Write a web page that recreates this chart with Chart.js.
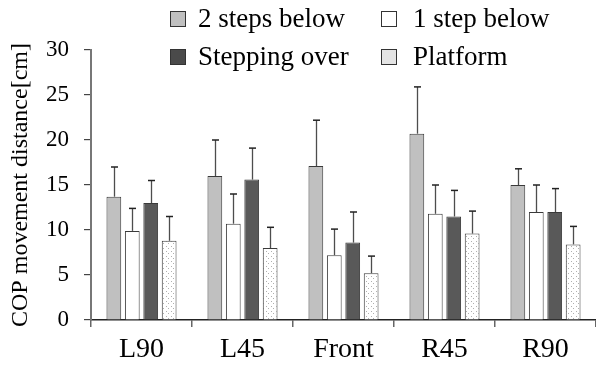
<!DOCTYPE html>
<html>
<head>
<meta charset="utf-8">
<script src="https://cdn.jsdelivr.net/npm/chart.js@4/dist/chart.umd.min.js"></script>
<style>
  html, body { margin: 0; padding: 0; background: #fff; }
  #wrap { position: relative; width: 596px; height: 366px; }
  canvas { position: absolute; left: 0; top: 0; }
  .lg { position: absolute; font-family: 'Liberation Serif', 'Times New Roman', serif; font-size: 27px; color: #000; line-height: 1; white-space: nowrap; }
  .bx { position: absolute; width: 14px; height: 14px; border: 1px solid #333; }
</style>
</head>
<body>
<div id="wrap">
  <canvas id="c" width="596" height="366"></canvas>
  <div id="legend"></div>
</div>
<script>
const categories = ['L90', 'L45', 'Front', 'R45', 'R90'];
const seriesNames = ['2 steps below', '1 step below', 'Stepping over', 'Platform'];
const twoStepsBelow = [13.7, 16.0, 17.1, 20.7, 15.0];
const oneStepBelow = [9.9, 10.7, 7.2, 11.8, 12.0];
const steppingOver = [13.0, 15.6, 8.6, 11.5, 12.0];
const platform = [8.8, 8.0, 5.2, 9.6, 8.4];
const twoStepsBelowSD = [3.3, 4.0, 5.1, 5.2, 1.8];
const oneStepBelowSD = [2.5, 3.3, 2.9, 3.2, 3.0];
const steppingOverSD = [2.5, 3.5, 3.4, 2.9, 2.6];
const platformSD = [2.7, 2.3, 1.9, 2.5, 2.0];
const yTicks = [0, 5, 10, 15, 20, 25, 30];

// dotted pattern for Platform
function makePattern() {
  const p = document.createElement('canvas');
  p.width = 5; p.height = 5;
  const g = p.getContext('2d');
  g.fillStyle = '#ffffff';
  g.fillRect(0, 0, 5, 5);
  g.fillStyle = '#b0b0b0';
  g.fillRect(1, 1, 1, 1);
  g.fillRect(3, 3, 1, 1);
  return document.getElementById('c').getContext('2d').createPattern(p, 'repeat');
}
const dotPattern = makePattern();

const fills = ['#c0c0c0', '#ffffff', '#595959', dotPattern];
const legendFills = ['#c0c0c0', '#ffffff', '#4a4a4a', '#e4e4e4'];
const values = [twoStepsBelow, oneStepBelow, steppingOver, platform];
const sds = [twoStepsBelowSD, oneStepBelowSD, steppingOverSD, platformSD];

// HTML legend (2 x 2)
const legendPos = [
  { bx: 170, tx: 198, cy: 19 },
  { bx: 381, tx: 413, cy: 19 },
  { bx: 170, tx: 198, cy: 57 },
  { bx: 381, tx: 413, cy: 57 }
];
const lg = document.getElementById('legend');
seriesNames.forEach((name, i) => {
  const p = legendPos[i];
  const b = document.createElement('div');
  b.className = 'bx';
  b.style.left = p.bx + 'px';
  b.style.top = (p.cy - 8) + 'px';
  b.style.background = legendFills[i];
  lg.appendChild(b);
  const t = document.createElement('div');
  t.className = 'lg';
  t.style.left = p.tx + 'px';
  t.style.top = (p.cy - 14) + 'px';
  t.textContent = name;
  lg.appendChild(t);
});

const errorBars = {
  id: 'errorBars',
  afterDatasetsDraw(chart) {
    const ctx = chart.ctx;
    const ys = chart.scales.y;
    ctx.save();
    chart.data.datasets.forEach((ds, di) => {
      const meta = chart.getDatasetMeta(di);
      meta.data.forEach((bar, i) => {
        const top = ys.getPixelForValue(ds.data[i] + sds[di][i]);
        const x = Math.round(bar.x) + 0.5;
        ctx.strokeStyle = '#4d4d4d';
        ctx.lineWidth = 1.3;
        ctx.beginPath();
        ctx.moveTo(x, bar.y);
        ctx.lineTo(x, top);
        ctx.stroke();
        ctx.strokeStyle = '#222';
        ctx.lineWidth = 1.5;
        ctx.beginPath();
        ctx.moveTo(x - 3.5, top);
        ctx.lineTo(x + 3.5, top);
        ctx.stroke();
      });
    });
    ctx.restore();
  }
};

const serif = "'Liberation Serif', 'Times New Roman', serif";

new Chart(document.getElementById('c'), {
  type: 'bar',
  data: {
    labels: categories,
    datasets: seriesNames.map((n, i) => ({
      label: n,
      data: values[i],
      backgroundColor: fills[i],
      borderColor: '#3a3a3a',
      borderWidth: 1,
      barPercentage: 0.8,
      categoryPercentage: 0.73
    }))
  },
  options: {
    responsive: false,
    animation: false,
    events: [],
    layout: { padding: { top: 50, right: 0, left: 0, bottom: 0 } },
    plugins: { legend: { display: false }, tooltip: { enabled: false } },
    scales: {
      x: {
        afterFit(s) { s.height = 46; },
        grid: { display: true, drawOnChartArea: false, offset: true, tickLength: 7, color: '#666', lineWidth: 1.5 },
        border: { display: true, color: '#222', width: 1.5 },
        ticks: { color: '#000', font: { family: serif, size: 28 }, padding: 6, maxRotation: 0 }
      },
      y: {
        min: 0, max: 30,
        afterFit(s) { s.width = 91; },
        afterBuildTicks(s) { s.ticks = yTicks.map(v => ({ value: v })); },
        grid: { display: true, drawOnChartArea: false, tickLength: 7, color: '#444', lineWidth: 1.2 },
        border: { display: true, color: '#777', width: 2 },
        ticks: { color: '#000', font: { family: serif, size: 23 }, padding: 15 },
        title: { display: true, text: 'COP movement distance[cm]', color: '#000', font: { family: serif, size: 24 }, padding: { top: 6, bottom: 0 } }
      }
    }
  },
  plugins: [errorBars]
});
</script>
</body>
</html>
